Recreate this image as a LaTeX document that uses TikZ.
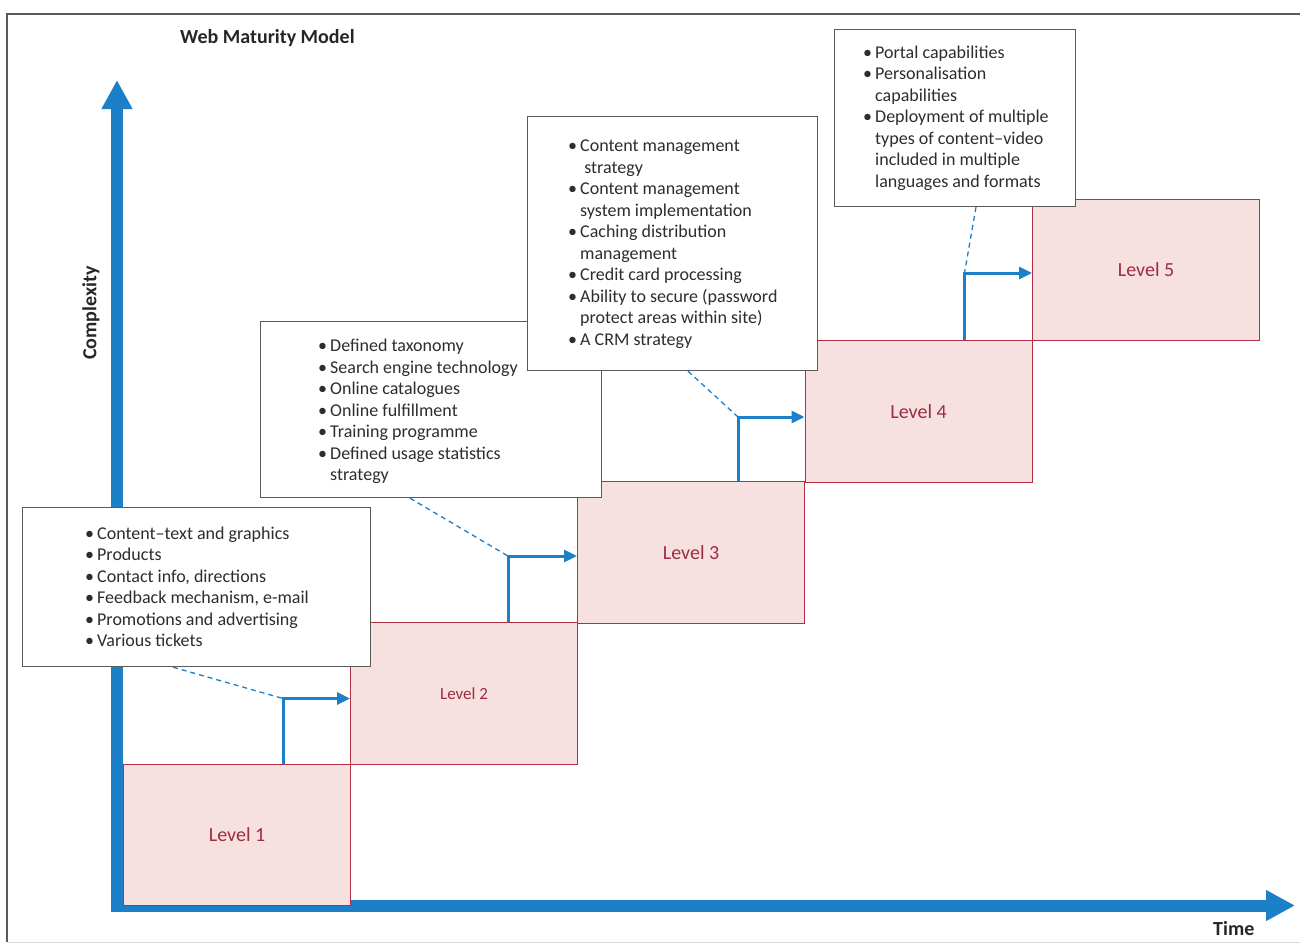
\documentclass[tikz,border=0pt]{standalone}
\usepackage{fontspec}
\setmainfont{Carlito}
\usetikzlibrary{arrows.meta,calc}
\definecolor{axisblue}{RGB}{28,128,200}
\definecolor{lvlfill}{RGB}{246,225,224}
\definecolor{lvldraw}{RGB}{178,48,70}
\definecolor{lvltext}{RGB}{158,44,66}
\definecolor{boxtext}{RGB}{45,45,45}
\definecolor{framegray}{RGB}{90,90,90}
\newcommand\bu{\makebox[12pt][l]{\textbullet}}
\newcommand\ct{\hspace*{12pt}}
\tikzset{
  level/.style={draw=lvldraw, line width=1.2pt, fill=lvlfill, minimum width=227pt, minimum height=141.5pt, anchor=north west, inner sep=0pt, text=lvltext, font=\fontsize{20}{24}\selectfont},
  callout/.style={draw=framegray, line width=1.2pt, fill=white, anchor=north west, inner sep=0pt},
  blist/.style={anchor=base west, inner sep=0pt, text=boxtext, font=\fontsize{18}{21.5}\selectfont},
  axis/.style={draw=axisblue, line width=12pt, -{Triangle[length=29pt,width=29pt]}},
  stepline/.style={draw=axisblue, line width=3pt, -{Triangle[length=13pt,width=12pt]}},
  lead/.style={draw=axisblue, line width=1.3pt, dash pattern=on 5pt off 4pt},
  lbl/.style={inner sep=0pt, font=\bfseries\fontsize{20}{24}\selectfont, text=black!85}
}
\begin{document}
\begin{tikzpicture}[x=1pt,y=-1pt]
\useasboundingbox (0,0) rectangle (1300,945);
% frame
\coordinate (f1) at (7,14);
\coordinate (f2) at (1300,14);
\coordinate (f3) at (7,942);
\coordinate (f4) at (1300,942);
\draw[framegray, line width=1.3pt] (f2) -- (f1) -- (f3);
\draw[black!15, line width=1pt] (f3) -- (f4);
% axes
\coordinate (o1) at (117,911.5);
\coordinate (ytip) at (117,80);
\coordinate (o2) at (111,905.5);
\coordinate (xtip) at (1295,905.5);
\draw[axis] (o1) -- (ytip);
\draw[axis] (o2) -- (xtip);
% levels
\node[level] (L1) at (123,763.5) {Level 1};
\node[level, font=\fontsize{17}{20}\selectfont] (L2) at (350,622) {Level 2};
\node[level] (L3) at (577,481) {Level 3};
\node[level] (L4) at (804.5,340) {Level 4};
\node[level] (L5) at (1032,198.5) {Level 5};
% step arrows
\coordinate (k1) at ($(L1.north west)+(160,-65)$);
\coordinate (k2) at ($(L2.north west)+(158,-66)$);
\coordinate (k3) at ($(L3.north west)+(161,-64)$);
\coordinate (k4) at ($(L4.north west)+(160,-67)$);
\draw[stepline] (L1.north -| k1) -- (k1) -- (L2.west |- k1);
\draw[stepline] (L2.north -| k2) -- (k2) -- (L3.west |- k2);
\draw[stepline] (L3.north -| k3) -- (k3) -- (L4.west |- k3);
\draw[stepline] (L4.north -| k4) -- (k4) -- (L5.west |- k4);
% callout boxes
\node[callout, minimum width=348pt, minimum height=159pt] (B1) at (22,507) {};
\node[callout, minimum width=341pt, minimum height=176pt] (B2) at (260,321) {};
\node[callout, minimum width=290pt, minimum height=254pt] (B3) at (527,116) {};
\node[callout, minimum width=241pt, minimum height=177pt] (B4) at (834,29) {};
% leader lines
\draw[lead] ($(B1.south west)+(151,0)$) -- (k1);
\draw[lead] ($(B2.south west)+(150,0)$) -- (k2);
\draw[lead] ($(B3.south west)+(161,0)$) -- (k3);
\draw[lead] ($(B4.south west)+(142,0)$) -- (k4);
% callout texts
\node[blist] (T1) at (85,539) {\begin{tabular}[t]{@{}l@{}}
\bu Content–text and graphics\\
\bu Products\\
\bu Contact info, directions\\
\bu Feedback mechanism, e-mail\\
\bu Promotions and advertising\\
\bu Various tickets
\end{tabular}};
\node[blist] (T2) at (318,351.5) {\begin{tabular}[t]{@{}l@{}}
\bu Defined taxonomy\\
\bu Search engine technology\\
\bu Online catalogues\\
\bu Online fulfillment\\
\bu Training programme\\
\bu Defined usage statistics\\
\ct strategy
\end{tabular}};
\node[blist] (T3) at (568,151.5) {\begin{tabular}[t]{@{}l@{}}
\bu Content management\\
\ct\ strategy\\
\bu Content management\\
\ct system implementation\\
\bu Caching distribution\\
\ct management\\
\bu Credit card processing\\
\bu Ability to secure (password\\
\ct protect areas within site)\\
\bu A CRM strategy
\end{tabular}};
\node[blist] (T4) at (863,58) {\begin{tabular}[t]{@{}l@{}}
\bu Portal capabilities\\
\bu Personalisation\\
\ct capabilities\\
\bu Deployment of multiple\\
\ct types of content–video\\
\ct included in multiple\\
\ct languages and formats
\end{tabular}};
% labels
\node[lbl, anchor=base west] (title) at (180,43) {Web Maturity Model};
\node[lbl, rotate=90] (cx) at (91,313) {Complexity};
\node[lbl, anchor=base west] (tm) at (1213,935) {Time};
\end{tikzpicture}
\end{document}
